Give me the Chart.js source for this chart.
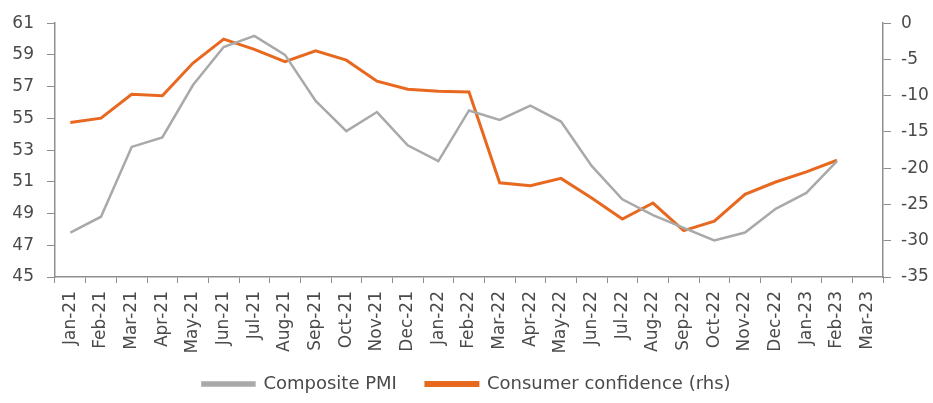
<!DOCTYPE html>
<html>
<head>
<meta charset="utf-8">
<script src="https://cdn.jsdelivr.net/npm/chart.js@4.4.1/dist/chart.umd.min.js"></script>
<style>
  html, body { margin: 0; padding: 0; background: #fff; }
  #wrap { width: 933px; height: 403px; position: relative; }
</style>
</head>
<body>
<div id="wrap"><canvas id="chart"></canvas></div>
<script>
const months = ['Jan-21', 'Feb-21', 'Mar-21', 'Apr-21', 'May-21', 'Jun-21', 'Jul-21', 'Aug-21', 'Sep-21',
  'Oct-21', 'Nov-21', 'Dec-21', 'Jan-22', 'Feb-22', 'Mar-22', 'Apr-22', 'May-22', 'Jun-22', 'Jul-22',
  'Aug-22', 'Sep-22', 'Oct-22', 'Nov-22', 'Dec-22', 'Jan-23', 'Feb-23', 'Mar-23'];

const compositePmi = [47.8, 48.8, 53.2, 53.8, 57.1, 59.5, 60.2, 59.0, 56.1, 54.2, 55.4, 53.3, 52.3,
  55.5, 54.9, 55.8, 54.8, 52.0, 49.9, 48.9, 48.1, 47.3, 47.8, 49.3, 50.3, 52.3, null];

const consumerConfidence = [-13.7, -13.1, -9.8, -10.0, -5.5, -2.2, -3.6, -5.3, -3.8, -5.1, -8.0, -9.1, -9.4,
  -9.5, -22.0, -22.4, -21.4, -24.1, -27.0, -24.8, -28.6, -27.3, -23.6, -21.9, -20.5, -18.9, null];

const pmiRange = [45, 61, 2];
const confRange = [-35, 0, 5];

const grey = '#a9a9a9';
const orange = '#e8681f';
const axisColor = '#8f8f8f';
const textColor = '#4a4a4a';
const font = { family: 'DejaVu Sans', size: 17 };

// month labels hang a little into the legend band, so widen the x scale's clip box
const labelOverhang = {
  id: 'labelOverhang',
  afterLayout(chart) {
    chart.scales.x.bottom += 12;
  }
};

new Chart(document.getElementById('chart'), {
  type: 'line',
  data: {
    labels: months,
    datasets: [{
      label: 'Composite PMI',
      data: compositePmi,
      borderColor: grey,
      backgroundColor: grey,
      borderWidth: 2.5,
      pointRadius: 0,
      yAxisID: 'y'
    }, {
      label: 'Consumer confidence (rhs)',
      data: consumerConfidence,
      borderColor: orange,
      backgroundColor: orange,
      borderWidth: 3,
      pointRadius: 0,
      yAxisID: 'y1'
    }]
  },
  plugins: [labelOverhang],
  options: {
    responsive: true,
    maintainAspectRatio: false,
    animation: false,
    layout: { padding: { top: 21, bottom: 0, left: 0, right: 0 } },
    plugins: {
      tooltip: { enabled: false },
      legend: {
        position: 'bottom',
        labels: {
          color: textColor,
          font: { family: 'DejaVu Sans', size: 18 },
          boxWidth: 52,
          boxHeight: 3,
          padding: 29
        }
      }
    },
    scales: {
      x: {
        offset: true,
        grid: { offset: true, drawOnChartArea: false, color: axisColor, tickLength: 6 },
        border: { color: axisColor, width: 1.5 },
        ticks: { color: textColor, font: font, minRotation: 90, maxRotation: 90, autoSkip: false, padding: 8 },
        afterFit: (scale) => { scale.height = 69; }
      },
      y: {
        position: 'left',
        min: pmiRange[0],
        max: pmiRange[1],
        grid: { drawOnChartArea: false, color: axisColor, tickLength: 8 },
        border: { color: axisColor, width: 1.5 },
        ticks: { stepSize: pmiRange[2], color: textColor, font: font, padding: 13 },
        afterFit: (scale) => { scale.width = 55; }
      },
      y1: {
        position: 'right',
        min: confRange[0],
        max: confRange[1],
        grid: { drawOnChartArea: false, color: axisColor, tickLength: 8 },
        border: { color: axisColor, width: 1.5 },
        ticks: { stepSize: confRange[2], color: textColor, font: font, padding: 10 },
        afterFit: (scale) => { scale.width = 50; }
      }
    }
  }
});
</script>
</body>
</html>
